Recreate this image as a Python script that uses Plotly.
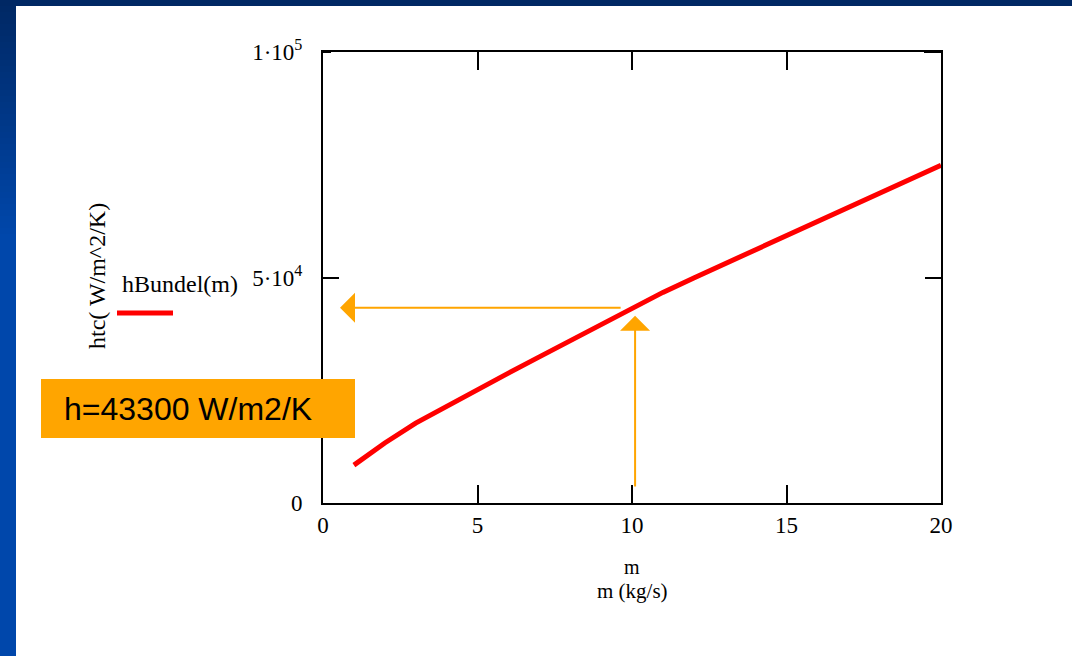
import plotly.graph_objects as go

# ---- data ----
m_vals = [1, 2, 3, 4, 5, 6, 7, 8, 9, 10, 11, 12, 13, 14, 15, 16, 17, 18, 19, 20]
h_vals = [8400, 13300, 17700, 21500, 25200, 28800, 32400, 36000, 39700, 43300,
          46700, 49900, 53000, 56100, 59200, 62300, 65400, 68500, 71700, 74900]
x_ticks = [0, 5, 10, 15, 20]
x_tick_text = ["0", "5", "10", "15", "20"]
y_ticks = [0, 50000, 100000]
y_tick_text = ["0", "5·10<sup>4</sup>", "1·10<sup>5</sup>"]
h_sel = 43300          # reading at the selected flow rate
m_sel = 10.1           # selected flow rate (kg/s)
h_arrow_from = 9.68    # m where the horizontal arrow starts
h_arrow_to = 0.55      # m where the horizontal arrow ends
v_arrow_from = 3300    # h where the vertical arrow starts
v_arrow_to = 41500     # h where the vertical arrow ends
box_text = "h=43300 W/m2/K"

W, H = 1072, 656
def px(x):
    return x / W
def py(y):
    return 1 - y / H

SERIF = "Liberation Serif, Times New Roman, serif"
ORANGE = "#FFA500"

fig = go.Figure()
fig.add_trace(go.Scatter(x=m_vals, y=h_vals, mode="lines",
                         line=dict(color="#ff0000", width=5),
                         showlegend=False, hoverinfo="skip"))

shapes = []
# blue slide border: gradient left strip + top strip
N = 40
top_c = (0, 40, 100)
bot_c = (0, 71, 171)
for i in range(N):
    y0 = i * 240 / N
    y1 = (i + 1) * 240 / N
    t = i / (N - 1)
    c = tuple(int(round(top_c[k] + (bot_c[k] - top_c[k]) * t)) for k in range(3))
    shapes.append(dict(type="rect", xref="paper", yref="paper",
                       x0=px(0), x1=px(16), y0=py(y1 + 0.5), y1=py(y0),
                       fillcolor="rgb(%d,%d,%d)" % c, line=dict(width=0), layer="below"))
shapes.append(dict(type="rect", xref="paper", yref="paper",
                   x0=px(0), x1=px(16), y0=0, y1=py(240),
                   fillcolor="rgb(%d,%d,%d)" % bot_c, line=dict(width=0), layer="below"))
shapes.append(dict(type="rect", xref="paper", yref="paper",
                   x0=0, x1=1, y0=py(6), y1=1,
                   fillcolor="rgb(0,40,100)", line=dict(width=0), layer="below"))
# orange result box
shapes.append(dict(type="rect", xref="paper", yref="paper",
                   x0=px(41), x1=px(355), y0=py(438), y1=py(379),
                   fillcolor=ORANGE, line=dict(width=0)))
# legend swatch
shapes.append(dict(type="line", xref="paper", yref="paper",
                   x0=px(117), x1=px(173), y0=py(313), y1=py(313),
                   line=dict(color="#ff0000", width=5)))
# small thick marks on top corners (Mathcad artefact)
shapes.append(dict(type="rect", xref="paper", yref="paper",
                   x0=px(323), x1=px(331), y0=py(53), y1=py(50.5),
                   fillcolor="black", line=dict(width=0)))
shapes.append(dict(type="rect", xref="paper", yref="paper",
                   x0=px(924), x1=px(941), y0=py(53), y1=py(50.5),
                   fillcolor="black", line=dict(width=0)))

annotations = [
    # arrows
    dict(x=h_arrow_to, y=h_sel, ax=h_arrow_from, ay=h_sel, xref="x", yref="y",
         axref="x", ayref="y", text="", showarrow=True, arrowhead=1,
         arrowsize=2.5, arrowwidth=2, arrowcolor=ORANGE),
    dict(x=m_sel, y=v_arrow_to, ax=m_sel, ay=v_arrow_from, xref="x", yref="y",
         axref="x", ayref="y", text="", showarrow=True, arrowhead=1,
         arrowsize=2.5, arrowwidth=2, arrowcolor=ORANGE),
    # box text
    dict(x=px(62), y=py(409), xref="paper", yref="paper", xanchor="left",
         yanchor="middle", text=box_text, showarrow=False,
         font=dict(family="Liberation Sans, Arial, sans-serif", size=32, color="black")),
    # legend label
    dict(x=px(120), y=py(284), xref="paper", yref="paper", xanchor="left",
         yanchor="middle", text="hBundel(m)", showarrow=False,
         font=dict(family=SERIF, size=24, color="black")),
    # y title
    dict(x=px(97), y=py(276), xref="paper", yref="paper", xanchor="center",
         yanchor="middle", text="htc( W/m^2/K)", textangle=-90, showarrow=False,
         font=dict(family=SERIF, size=24, color="black")),
    # x title
    dict(x=px(632), y=py(567), xref="paper", yref="paper", xanchor="center",
         yanchor="middle", text="m", showarrow=False,
         font=dict(family=SERIF, size=20, color="black")),
    dict(x=px(632), y=py(591), xref="paper", yref="paper", xanchor="center",
         yanchor="middle", text="m (kg/s)", showarrow=False,
         font=dict(family=SERIF, size=21, color="black")),
]

fig.update_layout(
    width=W, height=H,
    margin=dict(l=0, r=0, t=0, b=0, pad=0),
    paper_bgcolor="white", plot_bgcolor="white",
    showlegend=False,
    shapes=shapes,
    annotations=annotations,
    xaxis=dict(domain=[px(323), px(941)], range=[0, 20], automargin=False,
               tickvals=x_ticks, ticktext=x_tick_text,
               ticks="inside", ticklen=18, tickwidth=2, tickcolor="black",
               showline=True, linewidth=2, linecolor="black", mirror="ticks",
               showgrid=False, zeroline=False, ticklabelstandoff=0,
               tickfont=dict(family=SERIF, size=23, color="black")),
    yaxis=dict(domain=[py(503), py(52)], range=[0, 100000], automargin=False,
               tickvals=y_ticks, ticktext=y_tick_text,
               ticks="inside", ticklen=16, tickwidth=2, tickcolor="black",
               showline=True, linewidth=2, linecolor="black", mirror="ticks",
               showgrid=False, zeroline=False, ticklabelstandoff=14,
               tickfont=dict(family=SERIF, size=23, color="black")),
)

fig.write_html("out.html")
